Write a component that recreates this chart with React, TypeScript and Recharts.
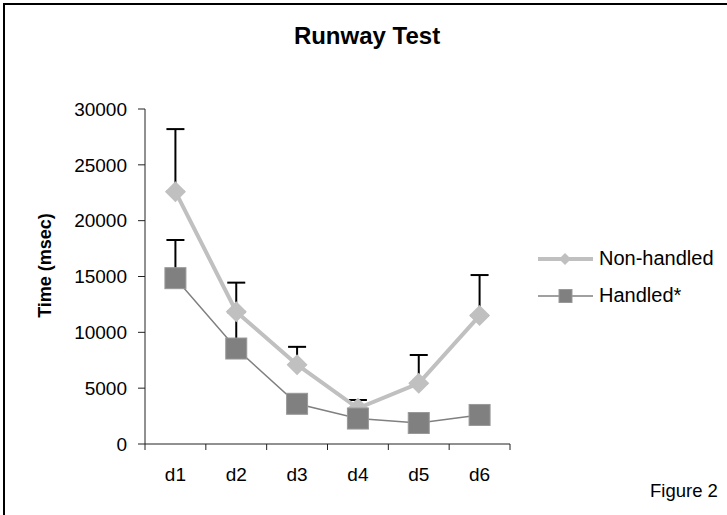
import { ComposedChart, Line, XAxis, YAxis, ErrorBar } from "recharts";

const categories = ["d1", "d2", "d3", "d4", "d5", "d6"];
const nonHandled = [22600, 11850, 7100, 3200, 5430, 11500];
const nonHandledTop = [28200, 14450, 8700, 3940, 7970, 15130];
const handled = [14850, 8550, 3600, 2280, 1880, 2600];
const handledTop = [18270, 11800, 4200, 2600, 2300, 3100];
const yTicks = [0, 5000, 10000, 15000, 20000, 25000, 30000];

const font = '"Liberation Sans", Arial, sans-serif';
const axisColor = "#222";

const data = categories.map((c, i) => ({
  x: i + 0.5,
  nh: nonHandled[i],
  nhErr: [0, nonHandledTop[i] - nonHandled[i]],
  h: handled[i],
  hErr: [0, handledTop[i] - handled[i]],
}));

// boundary ticks (lines) and centre ticks (labels)
const xTicks = categories.flatMap((_, i) => [i, i + 0.5]).concat(categories.length);

function XTick(props: any) {
  const { x, y, payload } = props;
  const v = payload.value;
  if (Number.isInteger(v)) {
    return <line x1={x} x2={x} y1={y} y2={y + 6} stroke={axisColor} strokeWidth={1} />;
  }
  return (
    <text x={x} y={y + 24} dy="0.71em" textAnchor="middle" fontSize={19} fontFamily={font} fill="#000">
      {categories[Math.floor(v)]}
    </text>
  );
}

const Diamond = (p: any) => {
  const { cx, cy, index } = p;
  if (cx == null || cy == null) return <g key={index} />;
  const r = 10.5;
  return (
    <polygon
      key={index}
      points={`${cx},${cy - r} ${cx + r},${cy} ${cx},${cy + r} ${cx - r},${cy}`}
      fill="#c0c0c0"
    />
  );
};

const Square = (p: any) => {
  const { cx, cy, index } = p;
  if (cx == null || cy == null) return <g key={index} />;
  const r = 10.5;
  return <rect key={index} x={cx - r} y={cy - r} width={2 * r} height={2 * r} fill="#808080" stroke="#999" strokeWidth={1} />;
};

const legendItems = [
  { name: "Non-handled", color: "#c0c0c0", width: 4, shape: "diamond" },
  { name: "Handled*", color: "#808080", width: 1.5, shape: "square" },
];

export default function App() {
  return (
    <div
      style={{
        position: "absolute",
        left: 0,
        top: 0,
        width: 727,
        height: 515,
        overflow: "hidden",
        background: "#fff",
        fontFamily: font,
      }}
    >
      <div
        style={{
          position: "absolute",
          left: 3,
          top: 3,
          width: 760,
          height: 560,
          border: "2px solid #000",
        }}
      />
      <div
        style={{
          position: "absolute",
          left: 0,
          width: 734,
          top: 24,
          textAlign: "center",
          fontSize: 24,
          lineHeight: "24px",
          fontWeight: "bold",
        }}
      >
        Runway Test
      </div>
      <div style={{ position: "absolute", left: 650, top: 482, fontSize: 18.5, lineHeight: "18px" }}>Figure 2</div>

      <div style={{ position: "absolute", left: 538, top: 240 }}>
        {legendItems.map((it) => (
          <div key={it.name} style={{ display: "flex", alignItems: "center", height: 37 }}>
            <svg width={56} height={22} style={{ marginRight: 5 }}>
              <line x1={0} x2={55} y1={11} y2={11} stroke={it.color} strokeWidth={it.width} />
              {it.shape === "diamond" ? (
                <polygon points="27,5 33,11 27,17 21,11" fill={it.color} />
              ) : (
                <rect x={21} y={4.5} width={13} height={13} fill={it.color} stroke="#999" strokeWidth={1} />
              )}
            </svg>
            <span style={{ fontSize: 20 }}>{it.name}</span>
          </div>
        ))}
      </div>

      <div style={{ position: "absolute", left: 0, top: 0 }}>
        <ComposedChart width={727} height={515} data={data} margin={{ top: 109, right: 217, bottom: 41, left: 0 }}>
          <XAxis
            type="number"
            dataKey="x"
            domain={[0, categories.length]}
            ticks={xTicks}
            interval={0}
            tickSize={0}
            tickMargin={0}
            tickLine={false}
            tick={<XTick />}
            height={30}
            stroke={axisColor}
          />
          <YAxis
            type="number"
            domain={[0, 30000]}
            ticks={yTicks}
            interval={0}
            width={145}
            tickSize={7}
            tickMargin={11}
            stroke={axisColor}
            tick={{ fill: "#000", fontSize: 19, fontFamily: font }}
            label={{
              content: (lp: any) => {
                const vb = lp.viewBox || { x: 0, y: 109, height: 335 };
                const cx = vb.x + 51;
                const cy = vb.y + vb.height / 2 - 11;
                return (
                  <text
                    transform={`translate(${cx},${cy}) rotate(-90)`}
                    textAnchor="middle"
                    fontSize={18}
                    fontWeight="bold"
                    fontFamily={font}
                    fill="#000"
                  >
                    Time (msec)
                  </text>
                );
              },
            }}
          />
          <Line dataKey="h" stroke="none" dot={false} activeDot={false} isAnimationActive={false}>
            <ErrorBar dataKey="hErr" direction="y" width={9} stroke="#000" strokeWidth={2} isAnimationActive={false} />
          </Line>
          <Line dataKey="nh" stroke="none" dot={false} activeDot={false} isAnimationActive={false}>
            <ErrorBar dataKey="nhErr" direction="y" width={9} stroke="#000" strokeWidth={2} isAnimationActive={false} />
          </Line>
          <Line
            dataKey="nh"
            type="linear"
            stroke="#c0c0c0"
            strokeWidth={4}
            dot={Diamond}
            activeDot={false}
            isAnimationActive={false}
          />
          <Line
            dataKey="h"
            type="linear"
            stroke="#808080"
            strokeWidth={1.5}
            dot={Square}
            activeDot={false}
            isAnimationActive={false}
          />
        </ComposedChart>
      </div>
    </div>
  );
}
